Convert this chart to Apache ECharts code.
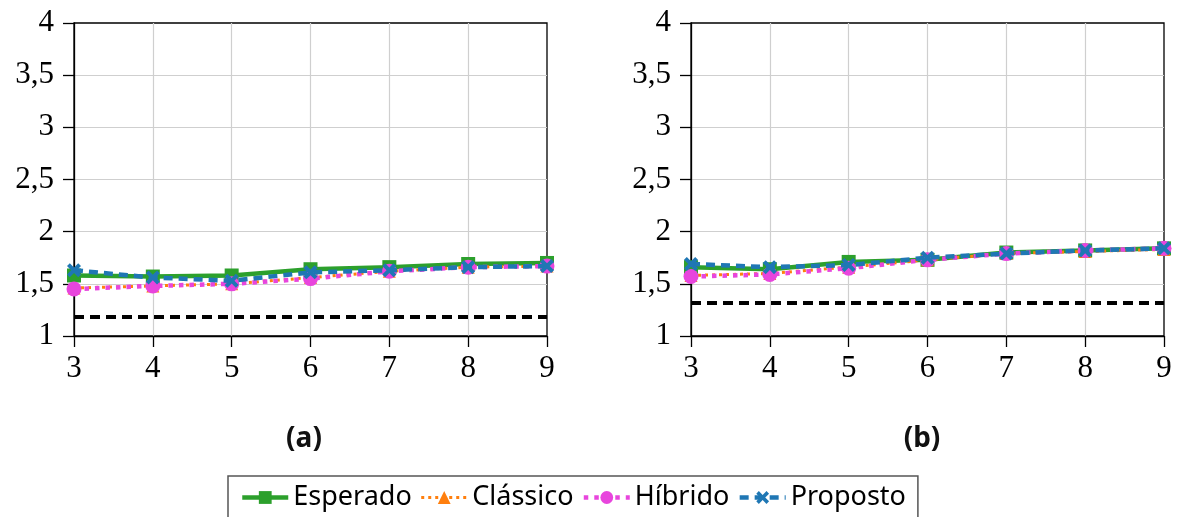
<!DOCTYPE html>
<html>
<head>
<meta charset="utf-8">
<script src="https://cdn.jsdelivr.net/npm/echarts@6/dist/echarts.min.js"></script>
<style>html,body{margin:0;padding:0;background:#fff}#c{width:1181px;height:517px}</style>
</head>
<body>
<div id="c"></div>
<script>
var xValues = [3, 4, 5, 6, 7, 8, 9];
var yTicks = {min: 1, max: 4, step: 0.5};
var seriesNames = ['Esperado', 'Clássico', 'Híbrido', 'Proposto'];

var espA = [1.58, 1.57, 1.58, 1.64, 1.66, 1.69, 1.70];
var claA = [1.46, 1.48, 1.50, 1.56, 1.62, 1.66, 1.67];
var hibA = [1.45, 1.48, 1.50, 1.55, 1.62, 1.66, 1.67];
var proA = [1.63, 1.56, 1.53, 1.61, 1.63, 1.66, 1.67];
var refA = 1.18;

var espB = [1.66, 1.64, 1.71, 1.73, 1.80, 1.82, 1.84];
var claB = [1.58, 1.60, 1.66, 1.73, 1.79, 1.81, 1.83];
var hibB = [1.57, 1.59, 1.65, 1.73, 1.79, 1.82, 1.84];
var proB = [1.69, 1.66, 1.68, 1.75, 1.79, 1.82, 1.84];
var refB = 1.32;

var subCaptions = ['(a)', '(b)'];

var colors = ['#2ca02c', '#ff7f0e', '#e845dd', '#1f77b4'];
var xPath = 'path://M2,0 L5,3 L8,0 L10,2 L7,5 L10,8 L8,10 L5,7 L2,10 L0,8 L3,5 L0,2 Z';
var styles = [
  {symbol: 'rect', size: 14, width: 4.5, type: 'solid'},
  {symbol: 'triangle', size: 13, width: 3, type: [3, 4]},
  {symbol: 'circle', size: 15, width: 4.5, type: [4.5, 6]},
  {symbol: xPath, size: 14, width: 4.5, type: [9, 6]}
];

function pairs(arr) { return arr.map(function (v, i) { return [xValues[i], v]; }); }

var gridLefts = [74, 691];
var grids = [], xAxes = [], yAxes = [], series = [], titles = [];
var dataSets = [[espA, claA, hibA, proA], [espB, claB, hibB, proB]];
var refs = [refA, refB];

for (var g = 0; g < 2; g++) {
  grids.push({left: gridLefts[g], top: 23, width: 473, height: 313, show: true,
    borderColor: '#000', borderWidth: 1.3, backgroundColor: 'transparent'});
  xAxes.push({type: 'value', gridIndex: g, min: xValues[0], max: xValues[xValues.length - 1], interval: 1,
    axisLine: {show: true, onZero: false, lineStyle: {color: '#000', width: 1.3}},
    axisTick: {show: true, inside: false, length: 11, lineStyle: {color: '#000', width: 1.3}},
    axisLabel: {color: '#000', fontFamily: 'Liberation Serif', fontSize: 31, margin: 17},
    splitLine: {show: true, showMinLine: false, showMaxLine: false, lineStyle: {color: '#cfcfcf', width: 1.2}}});
  yAxes.push({type: 'value', gridIndex: g, min: yTicks.min, max: yTicks.max, interval: yTicks.step,
    axisLine: {show: true, onZero: false, lineStyle: {color: '#000', width: 1.3}},
    axisTick: {show: true, inside: false, length: 11, lineStyle: {color: '#000', width: 1.3}},
    axisLabel: {color: '#000', fontFamily: 'Liberation Serif', fontSize: 31, margin: 20,
      formatter: function (v) { return String(v).replace('.', ','); }},
    splitLine: {show: true, showMinLine: false, showMaxLine: false, lineStyle: {color: '#cfcfcf', width: 1.2}}});
  for (var s = 0; s < 4; s++) {
    var st = styles[s];
    var ser = {
      name: seriesNames[s], type: 'line', xAxisIndex: g, yAxisIndex: g,
      data: pairs(dataSets[g][s]),
      symbol: st.symbol, symbolSize: st.size, showAllSymbol: true,
      itemStyle: {color: colors[s]},
      lineStyle: {color: colors[s], width: st.width, type: st.type},
      animation: false, z: 3 + s
    };
    if (s === 0) {
      ser.markLine = {silent: true, symbol: 'none', animation: false, label: {show: false},
        lineStyle: {color: '#000', width: 4, type: [10, 6]},
        data: [{yAxis: refs[g]}]};
    }
    series.push(ser);
  }
  titles.push({text: subCaptions[g], left: [299, 917][g], top: 420, textAlign: 'center',
    textStyle: {fontFamily: 'Noto Sans', fontWeight: 'bold', fontSize: 28, color: '#111'}});
}

var legendData = seriesNames.map(function (n, i) {
  return {name: n, lineStyle: {width: styles[i].width, type: styles[i].type, color: colors[i]}};
});

var chart = echarts.init(document.getElementById('c'), null, {renderer: 'canvas'});
chart.setOption({
  animation: false,
  title: titles,
  grid: grids,
  xAxis: xAxes,
  yAxis: yAxes,
  legend: {
    data: legendData, left: 228, top: 476, orient: 'horizontal',
    padding: [8, 12, 30, 12], itemGap: 8, itemWidth: 46, itemHeight: 16,
    borderColor: '#555', borderWidth: 1.5, borderRadius: 0,
    lineStyle: {width: 4},
    textStyle: {fontFamily: 'Noto Sans', fontSize: 27, color: '#000'},
    selectedMode: false
  },
  series: series
});
</script>
</body>
</html>
